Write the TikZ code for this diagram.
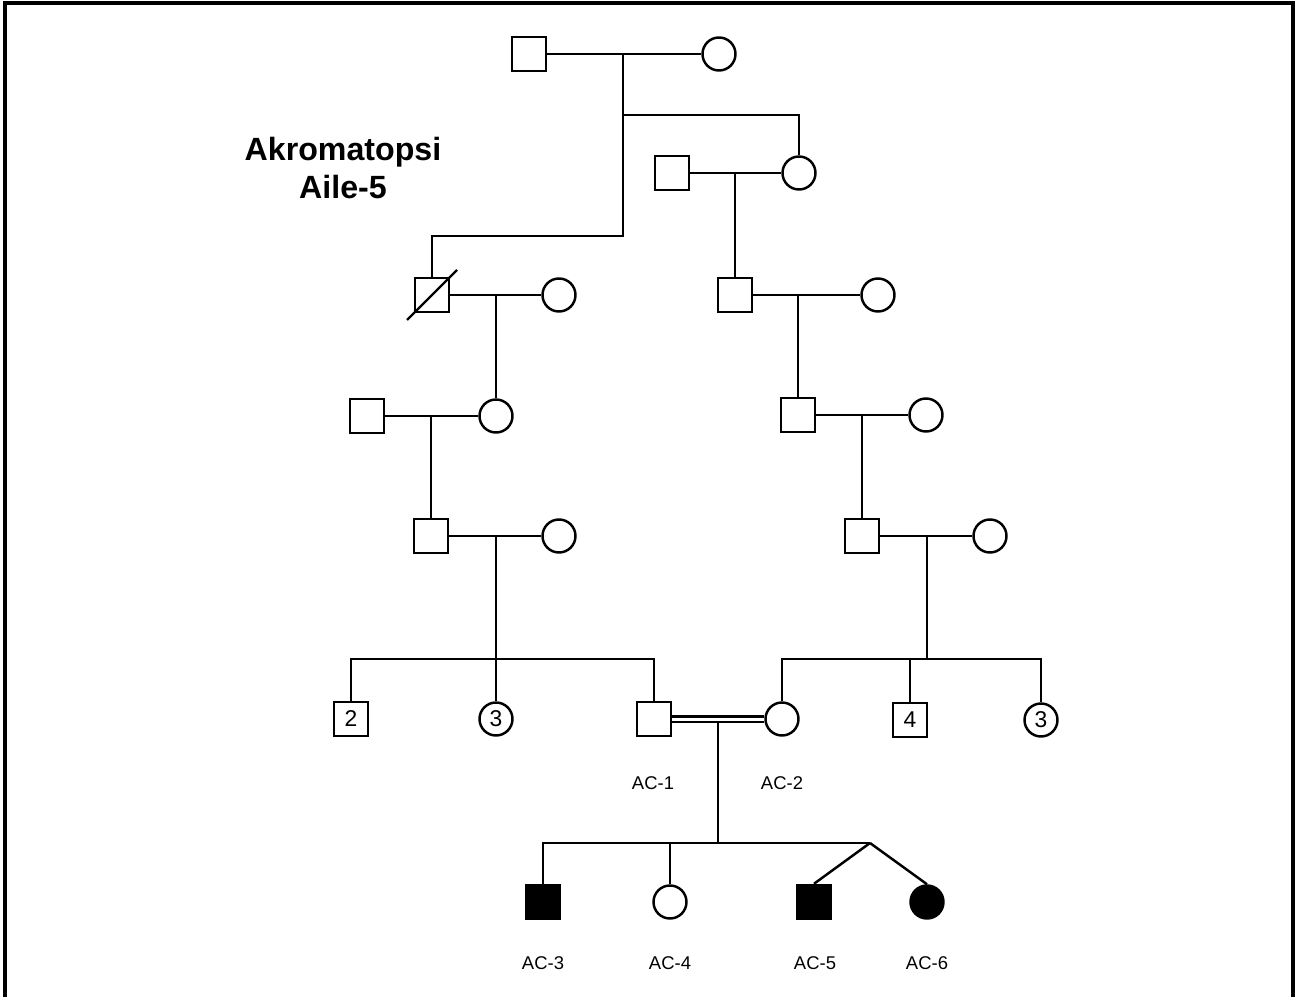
\documentclass[tikz,border=0pt]{standalone}
\usepackage{fontspec}
\setmainfont{Liberation Sans}
\usetikzlibrary{calc}

\tikzset{
	male/.style={draw, rectangle, minimum size=0.68cm, inner sep=0pt, line width=1.4pt, font=\fontsize{13}{15}\selectfont},
	female/.style={draw, circle, minimum size=0.66cm, inner sep=0pt, line width=1.4pt, font=\fontsize{13}{15}\selectfont},
	affected/.style={fill=black},
	idlabel/.style={font=\fontsize{10.5}{12}\selectfont},
}

\begin{document}
\begin{tikzpicture}[x=0.02cm, y=-0.02cm, line width=1.4pt]
	
	\useasboundingbox (0,0) rectangle (1303,997);
	
	% Rahmen
	\draw[line width=1.8pt] (5,997) -- (5,3) -- (1293,3) -- (1293,997);
	
	% Titel
	\node[font=\bfseries\fontsize{18.3}{21.5}\selectfont, align=center] (title) at (343,168) {Akromatopsi\\Aile-5};
	
	% I
	\node[male] (m1) at (529,54) {};
	\node[female] (f1) at (719,54) {};
	
	% II
	\node[male] (m2) at (672,173) {};
	\node[female] (f2) at (799,173) {};
	
	% III
	\node[male] (m3a) at (432,295) {};
	\node[female] (f3a) at (559,295) {};
	\node[male] (m3b) at (735,295) {};
	\node[female] (f3b) at (878,295) {};
	
	% IV
	\node[male] (m4a) at (367,416) {};
	\node[female] (f4a) at (496,416) {};
	\node[male] (m4b) at (798,415) {};
	\node[female] (f4b) at (926,415) {};
	
	% V
	\node[male] (m5a) at (431,536) {};
	\node[female] (f5a) at (559,536) {};
	\node[male] (m5b) at (862,536) {};
	\node[female] (f5b) at (990,536) {};
	
	% VI
	\node[male] (m6a) at (351,719) {2};
	\node[female] (f6a) at (496,719) {3};
	\node[male] (ac1) at (654,719) {};
	\node[female] (ac2) at (782,719) {};
	\node[male] (m6b) at (910,720) {4};
	\node[female] (f6b) at (1041,720) {3};
	
	\node[idlabel] (l1) at (653,783) {AC-1};
	\node[idlabel] (l2) at (782,783) {AC-2};
	
	% VII
	\node[male, affected] (ac3) at (543,902) {};
	\node[female] (ac4) at (670,902) {};
	\node[male, affected] (ac5) at (814,902) {};
	\node[female, affected] (ac6) at (927,902) {};
	
	\node[idlabel] (l3) at (543,963) {AC-3};
	\node[idlabel] (l4) at (670,963) {AC-4};
	\node[idlabel] (l5) at (815,963) {AC-5};
	\node[idlabel] (l6) at (927,963) {AC-6};
	
	% Linien
	\coordinate (s1) at (623,54);
	\coordinate (s1a) at (623,115);
	\coordinate (s1b) at (623,236);
	\draw (m1) -- (f1);
	\draw (s1) -- (s1b) -| (m3a.north);
	\draw (s1a) -| (f2.north);
	
	\draw (m2) -- (f2);
	\draw (m3b |- m2) -- (m3b.north);
	
	\draw (m3a) -- (f3a);
	\draw (f4a |- m3a) -- (f4a.north);
	\draw ($(m3a)+(-25,25)$) -- ($(m3a)+(25,-25)$);
	
	\draw (m3b) -- (f3b);
	\draw (m4b |- m3b) -- (m4b.north);
	
	\draw (m4a) -- (f4a);
	\draw (m5a |- m4a) -- (m5a.north);
	
	\draw (m4b) -- (f4b);
	\draw (m5b |- m4b) -- (m5b.north);
	
	\coordinate (sib5a) at (496,659);
	\draw (m5a) -- (f5a);
	\draw (f6a |- m5a) -- (f6a.north);
	\draw (m6a.north) |- (sib5a) -| (ac1.north);
	
	\coordinate (sib5b) at (927,659);
	\draw (m5b) -- (f5b);
	\draw (sib5b |- m5b) -- (sib5b);
	\draw (ac2.north) |- (sib5b) -| (f6b.north);
	\draw (m6b.north |- sib5b) -- (m6b.north);
	
	\coordinate (sib6) at (718,843);
	\coordinate (tw) at (870,843);
	\draw[double, line width=1.2pt, double distance=0.06cm] (ac1) -- (ac2);
	\draw ($(ac1)!.5!(ac2)+(0,3)$) -- (sib6);
	\draw (ac3.north) |- (tw);
	\draw (ac4.north |- tw) -- (ac4.north);
	\draw (tw) -- (ac5.north);
	\draw (tw) -- (ac6.north);
	
\end{tikzpicture}
\end{document}
